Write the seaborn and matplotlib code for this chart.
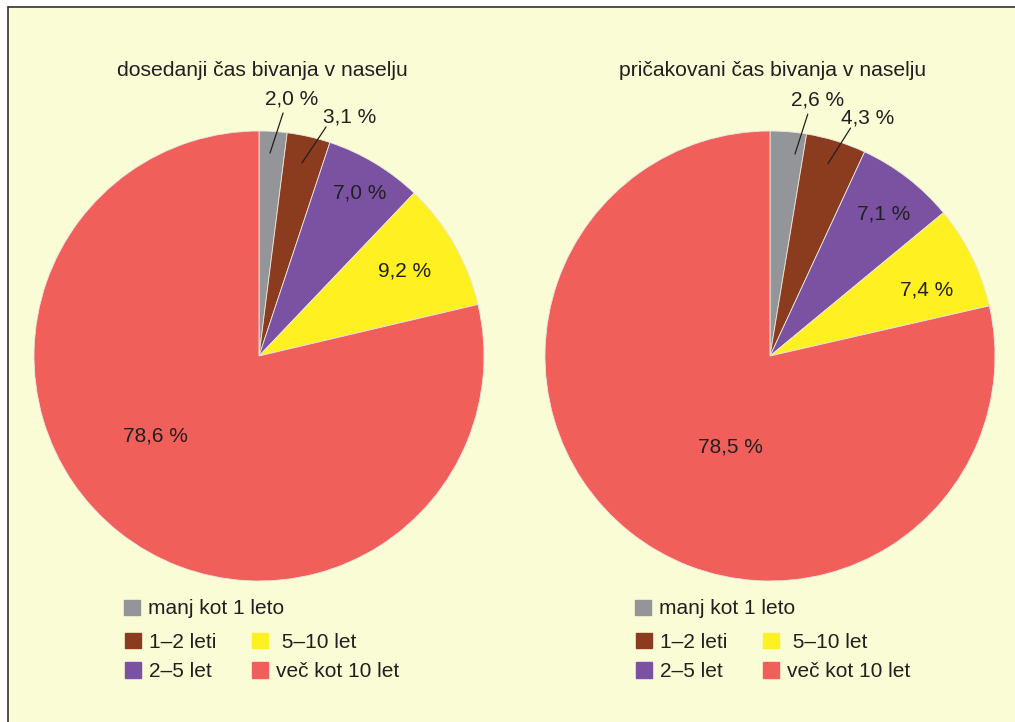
import matplotlib
matplotlib.use("Agg")
import matplotlib.pyplot as plt
import matplotlib.patches as mpatches
from matplotlib.lines import Line2D
import seaborn as sns

# podatki
kategorije = ["manj kot 1 leto", "1–2 leti", "2–5 let", "5–10 let", "več kot 10 let"]
dosedanji = [2.0, 3.1, 7.0, 9.2, 78.6]
pricakovani = [2.6, 4.3, 7.1, 7.4, 78.5]
oznake_dosedanji = ["2,0 %", "3,1 %", "7,0 %", "9,2 %", "78,6 %"]
oznake_pricakovani = ["2,6 %", "4,3 %", "7,1 %", "7,4 %", "78,5 %"]
naslovi = ["dosedanji čas bivanja v naselju", "pričakovani čas bivanja v naselju"]

barve = ["#939598", "#8B3B1E", "#7B52A2", "#FFF022", "#F15F5A"]
ozadje = "#FAFCD6"
tekst = "#231F20"

sns.set_theme(style="white")
plt.rcParams["font.family"] = ["Liberation Sans", "DejaVu Sans"]

W, H = 1015, 722
fig = plt.figure(figsize=(W / 100, H / 100), dpi=100)
fig.patch.set_facecolor("white")

# okvir
fig.patches.append(mpatches.Rectangle((8 / W, 0), 1, 1 - 7 / H,
                                      transform=fig.transFigure, facecolor=ozadje,
                                      edgecolor="none", zorder=-5))
fig.lines.append(Line2D([8 / W, 8 / W], [0, 1 - 7 / H], transform=fig.transFigure,
                        color="#333333", lw=1.2, zorder=-4))
fig.lines.append(Line2D([8 / W, 1], [1 - 7 / H, 1 - 7 / H], transform=fig.transFigure,
                        color="#333333", lw=1.2, zorder=-4))

# polozaji oznak (v enotah polmera)
pos_oznak = [
    [(0.147, 1.142), (0.404, 1.062), (0.449, 0.724), (0.649, 0.378), (-0.462, -0.356)],
    [(0.212, 1.137), (0.434, 1.058), (0.504, 0.633), (0.695, 0.292), (-0.177, -0.403)],
]
crte = [
    [((0.049, 0.902), (0.107, 1.080)), ((0.191, 0.858), (0.298, 1.018))],
    [((0.111, 0.898), (0.168, 1.075)), ((0.257, 0.854), (0.358, 1.013))],
]
centri = [(259, 356), (770, 356)]
R = 225

leg_kw = dict(frameon=False, fontsize=15, handlelength=0.75, handleheight=0.75,
              handletextpad=0.38, labelspacing=0.5, labelcolor=tekst,
              borderpad=0, borderaxespad=0, loc="center left")

for i, (vrednosti, oznake) in enumerate([(dosedanji, oznake_dosedanji),
                                         (pricakovani, oznake_pricakovani)]):
    cx, cy = centri[i]
    ax = fig.add_axes([(cx - R) / W, (H - cy - R) / H, 2 * R / W, 2 * R / H])
    ax.patch.set_alpha(0)
    wedges, _ = ax.pie(vrednosti, colors=barve, startangle=90, counterclock=False,
                       radius=1, wedgeprops=dict(edgecolor="#E8E8E0", linewidth=0.6))
    ax.set_xlim(-1, 1)
    ax.set_ylim(-1, 1)
    ax.set_aspect("equal")
    ax.axis("off")
    for j, lab in enumerate(oznake):
        x, y = pos_oznak[i][j]
        ax.text(x, y, lab, ha="center", va="center", fontsize=15, color=tekst, clip_on=False)
    for (x0, y0), (x1, y1) in crte[i]:
        ax.plot([x0, x1], [y0, y1], color=tekst, lw=0.9, clip_on=False)
    fig.text(cx / W + 3 / W, 1 - 70 / H, naslovi[i], ha="center", va="center",
             fontsize=15.2, color=tekst)

    # legenda: prva vrstica posebej, nato dva stolpca
    lx = cx - 135
    fig.legend([mpatches.Patch(color=barve[0])], [kategorije[0]],
               bbox_to_anchor=(lx / W, 1 - 609 / H), **leg_kw)
    handles = [mpatches.Patch(color=barve[k]) for k in (1, 2, 3, 4)]
    labels = [kategorije[1], kategorije[2], " " + kategorije[3], kategorije[4]]
    fig.legend(handles, labels, ncol=2, columnspacing=1.75,
               bbox_to_anchor=((lx + 1) / W, 1 - 657 / H), **leg_kw)

fig.savefig("out.png", dpi=100, facecolor=fig.get_facecolor())
